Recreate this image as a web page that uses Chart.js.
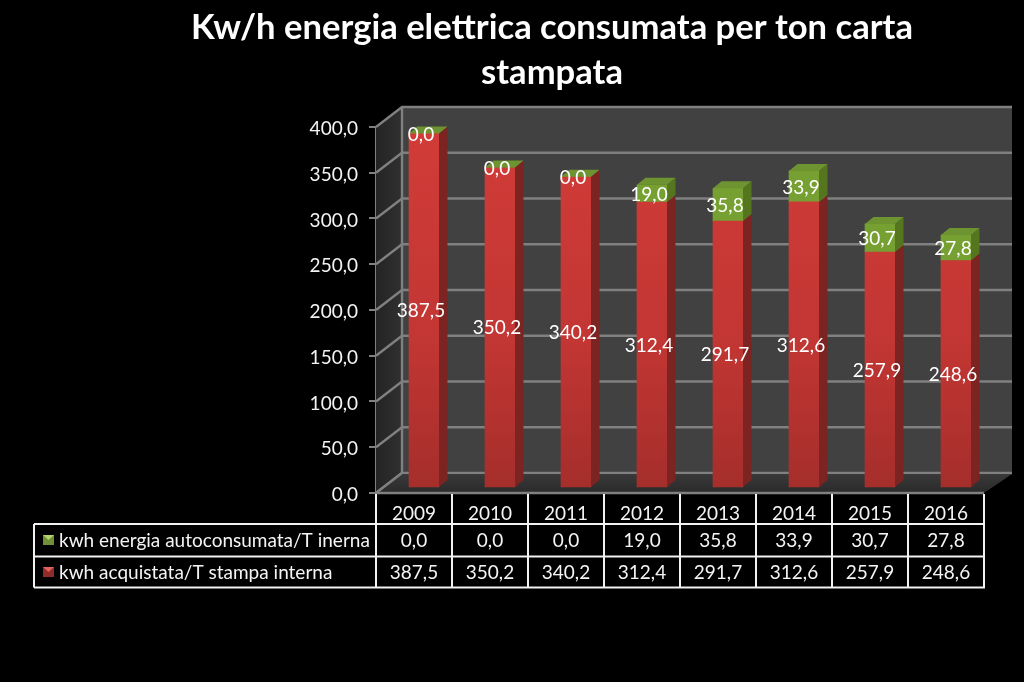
<!DOCTYPE html>
<html><head><meta charset="utf-8">
<style>html,body{margin:0;padding:0;background:#000}canvas{display:block}</style>
<script src="https://cdn.jsdelivr.net/npm/chart.js@4"></script>
</head><body>
<div style="width:1024px;height:682px"><canvas id="c" width="1024" height="682"></canvas></div>
<script>
const titleLines = ["Kw/h energia elettrica consumata per ton carta", "stampata"];
const categories = ["2009","2010","2011","2012","2013","2014","2015","2016"];
const acquistata = [387.5,350.2,340.2,312.4,291.7,312.6,257.9,248.6];
const autoconsumata = [0,0,0,19.0,35.8,33.9,30.7,27.8];
const nameAcquistata = "kwh acquistata/T stampa interna";
const nameAutoconsumata = "kwh energia autoconsumata/T inerna";

const FONT = "Lato, Carlito, sans-serif";
const TXT = "#f4f4f4";
const fmt = v => Number(v).toFixed(1).replace(".", ",");
const WALL = {dx:26, dy:-20};
const BAR3D = {dx:8.5, dy:-7, ox:10, oy:-5};

function poly(ctx, pts, fill){
  ctx.beginPath(); pts.forEach((p,i)=> i?ctx.lineTo(p[0],p[1]):ctx.moveTo(p[0],p[1]));
  ctx.closePath(); ctx.fillStyle = fill; ctx.fill();
}
function vGrad(chart, stops){
  const {ctx, chartArea:a} = chart;
  if(!a) return stops[0][1];
  const g = ctx.createLinearGradient(0,a.top,0,a.bottom);
  stops.forEach(s=>g.addColorStop(s[0],s[1]));
  return g;
}

const walls = {
  id:"walls",
  beforeDatasetsDraw(chart){
    const {ctx, chartArea:a, scales:{y}} = chart;
    const L=a.left,R=a.right,T=a.top,B=a.bottom,dx=WALL.dx,dy=WALL.dy;
    const backR = R+dx+2;
    ctx.save();
    poly(ctx,[[L+dx,T+dy],[backR,T+dy],[backR,B+dy],[L+dx,B+dy]],"#414141");
    const gs=ctx.createLinearGradient(L,0,L+dx,0); gs.addColorStop(0,"#242424"); gs.addColorStop(1,"#303030");
    poly(ctx,[[L,T],[L+dx,T+dy],[L+dx,B+dy],[L,B]],gs);
    ctx.strokeStyle="#808080"; ctx.lineWidth=2.4;
    y.ticks.forEach(t=>{
      const p=y.getPixelForValue(t.value);
      ctx.beginPath(); ctx.moveTo(L,p); ctx.lineTo(L+dx,p+dy); ctx.lineTo(backR,p+dy); ctx.stroke();
    });
    const gf=ctx.createLinearGradient(0,B+dy,0,B); gf.addColorStop(0,"#3a3a3a"); gf.addColorStop(1,"#2a2a2a");
    poly(ctx,[[L,B],[L+dx,B+dy+1],[backR,B+dy+1],[R,B]],gf);
    ctx.beginPath(); ctx.moveTo(L,B); ctx.lineTo(R,B); ctx.stroke();
    ctx.beginPath(); ctx.moveTo(L,B); ctx.lineTo(L+dx,B+dy); ctx.stroke();
    ctx.beginPath(); ctx.moveTo(L+dx,T+dy); ctx.lineTo(L+dx,B+dy); ctx.stroke();
    ctx.restore();
    ctx.save();
    ctx.translate(BAR3D.ox,BAR3D.oy);
  },
  afterDatasetsDraw(chart){
    const ctx=chart.ctx, {dx,dy}=BAR3D;
    const red=chart.getDatasetMeta(0).data, green=chart.getDatasetMeta(1).data;
    red.forEach((bar,i)=>{
      const g=green[i], xr=bar.x+bar.width/2, xl=bar.x-bar.width/2;
      poly(ctx,[[xr,bar.y],[xr+dx,bar.y+dy],[xr+dx,bar.base+dy],[xr,bar.base]],"#7c2422");
      if(autoconsumata[i]>0){
        poly(ctx,[[xr,g.y],[xr+dx,g.y+dy],[xr+dx,g.base+dy],[xr,g.base]],"#56751f");
      }
      poly(ctx,[[xl,g.y],[xl+dx,g.y+dy],[xr+dx,g.y+dy],[xr,g.y]],"#6d9430");
    });
    ctx.restore();
    ctx.save();
    ctx.font="19px "+FONT; ctx.fillStyle="#fff"; ctx.textAlign="center"; ctx.textBaseline="middle";
    red.forEach((bar,i)=>{
      const g=green[i], x=bar.x+7;
      ctx.fillText(fmt(acquistata[i]),x,(bar.y+bar.base)/2+BAR3D.oy+1);
      ctx.fillText(fmt(autoconsumata[i]),x,(g.y+g.base)/2+BAR3D.oy+1);
    });
    ctx.restore();
  },
  afterDraw(chart){
    const {ctx, chartArea:a, scales:{x}} = chart;
    const rows=[524,556.5,587.5], left=34;
    ctx.save();
    ctx.strokeStyle="#f2f2f2"; ctx.lineWidth=2;
    rows.forEach(r=>{ctx.beginPath();ctx.moveTo(left,r);ctx.lineTo(a.right+1,r);ctx.stroke();});
    ctx.beginPath();ctx.moveTo(left,rows[0]);ctx.lineTo(left,rows[2]);ctx.stroke();
    const step=(a.right-a.left)/categories.length;
    for(let i=0;i<=categories.length;i++){
      const px=a.left+i*step;
      ctx.beginPath();ctx.moveTo(px,a.bottom+1);ctx.lineTo(px,rows[2]);ctx.stroke();
    }
    ctx.font="19px "+FONT; ctx.fillStyle=TXT; ctx.textBaseline="middle"; ctx.textAlign="center";
    categories.forEach((c,i)=>{
      const px=x.getPixelForValue(i);
      ctx.fillText(fmt(autoconsumata[i]),px,541);
      ctx.fillText(fmt(acquistata[i]),px,572.5);
    });
    ctx.textAlign="left";
    ctx.fillText(nameAutoconsumata,59,541);
    ctx.fillText(nameAcquistata,59,572.5);
    swatch(ctx,43,535,"#6f8f38","#b4d36a");
    swatch(ctx,43,567,"#8f2c2a","#e2625c");
    ctx.restore();
  }
};
function swatch(ctx,x,y,base,light){
  ctx.fillStyle=base; ctx.fillRect(x,y,11,10);
  poly(ctx,[[x,y],[x+11,y],[x+5.5,y+5]],light);
}

new Chart(document.getElementById("c"),{
  type:"bar",
  data:{labels:categories,datasets:[
    {label:nameAcquistata,data:acquistata,barThickness:30,
     backgroundColor:c=>vGrad(c.chart,[[0,"#d23c38"],[0.6,"#c23633"],[1,"#a52e2b"]])},
    {label:nameAutoconsumata,data:autoconsumata,barThickness:30,
     backgroundColor:c=>{
       const e=c.element; const a=c.chart.chartArea;
       if(!e||!a||!(e.base>e.y)) return "#77a032";
       const g=c.chart.ctx.createLinearGradient(0,e.y,0,e.base);
       g.addColorStop(0,"#80a83a"); g.addColorStop(1,"#628a2a"); return g;
     }}
  ]},
  options:{
    responsive:false,animation:false,
    layout:{padding:{left:120,right:40,top:5,bottom:0}},
    plugins:{
      legend:{display:false},tooltip:{enabled:false},
      title:{display:true,text:titleLines,color:"#fff",
        font:{family:FONT,size:34.6,weight:"bold",lineHeight:1.3},
        padding:{top:0,bottom:32}}
    },
    scales:{
      x:{stacked:true,border:{display:false},grid:{display:false},
        ticks:{color:TXT,font:{family:FONT,size:19},padding:1,maxRotation:0},
        afterFit(s){s.height=189;}},
      y:{stacked:true,min:0,max:400,
        border:{display:true,color:"#808080",width:2},
        grid:{drawOnChartArea:false,drawTicks:true,tickLength:7,color:"#808080",lineWidth:2},
        ticks:{stepSize:50,color:TXT,font:{family:FONT,size:19},padding:11,labelOffset:2,callback:v=>fmt(v)},
        afterFit(s){s.width=256;}}
    }
  },
  plugins:[walls]
});
</script>
</body></html>
